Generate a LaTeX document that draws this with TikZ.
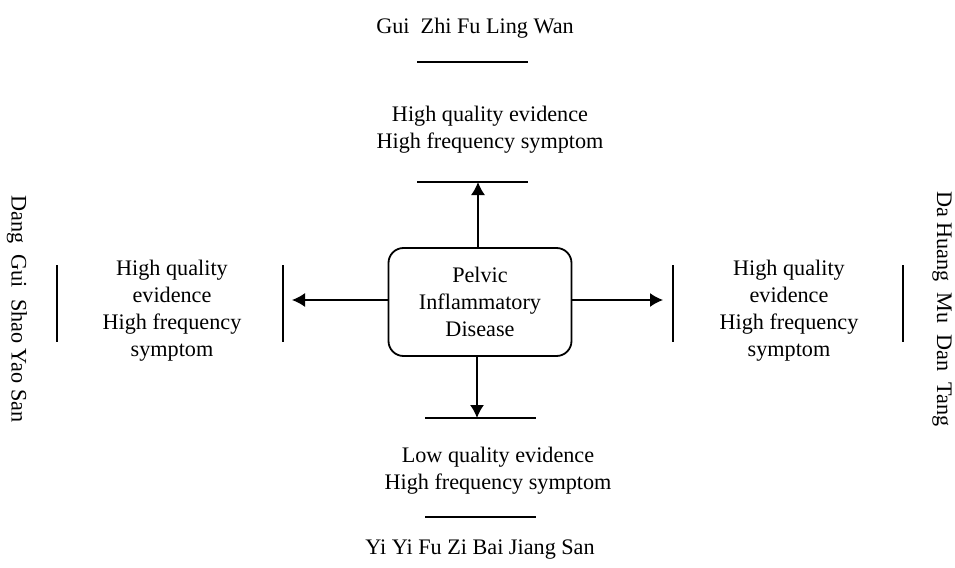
\documentclass[tikz,border=0pt]{standalone}
\usepackage{fontspec}
\setmainfont{Liberation Serif}
\usetikzlibrary{arrows.meta}
\tikzset{%
  >={Latex[width=7pt,length=6.5pt]},
       base/.style = {font=\fontsize{11.1}{13.5}\selectfont, align=center, inner sep=0pt},
    disease/.style = {base, rectangle, rounded corners=7.5pt, draw=black, line width=0.9pt,
                      minimum width=91.5pt, minimum height=54pt},
      evid/.style = {base},
      herb/.style = {base},
     herbv/.style = {base, rotate=-90},
       bar/.style = {line width=0.9pt},
      link/.style = {->, line width=0.7pt},
}
\begin{document}
\begin{tikzpicture}[x=0.5pt, y=-0.5pt]
  \useasboundingbox (0,0) rectangle (955,568);

  \node (pid)      [disease] at (480,302) {Pelvic\\Inflammatory\\Disease};

  \node (herbTop)   [herb]  at (475,28)  {Gui\ \ Zhi Fu Ling Wan};
  \node (evidTop)   [evid]  at (490,130) {High quality evidence\\High frequency symptom};
  \node (herbBot)   [herb]  at (480,550) {Yi Yi Fu Zi Bai Jiang San};
  \node (evidBot)   [evid]  at (498,471) {Low quality evidence\\High frequency symptom};
  \node (herbLeft)  [herbv] at (17,309)  {Dang\ \ Gui\ \ Shao Yao San};
  \node (evidLeft)  [evid]  at (172,311) {High quality\\evidence\\High frequency\\symptom};
  \node (herbRight) [herbv] at (942,309) {Da Huang\ \ Mu\ \ Dan\ \ Tang};
  \node (evidRight) [evid]  at (789,311) {High quality\\evidence\\High frequency\\symptom};

  % bars round the evidence texts
  \draw[bar] (417,62)  -- (528,62);
  \draw[bar] (417,182) -- (528,182);
  \draw[bar] (425,418) -- (536,418);
  \draw[bar] (425,517) -- (536,517);
  \draw[bar] (57,265)  -- (57,342);
  \draw[bar] (283,265) -- (283,342);
  \draw[bar] (673,265) -- (673,342);
  \draw[bar] (903,265) -- (903,342);

  \coordinate (tipTop)   at (478,182);
  \coordinate (tipBot)   at (477,418);
  \coordinate (tipLeft)  at (292,300);
  \coordinate (tipRight) at (663,300);

  \draw[link] (pid.north -| tipTop)  -- (tipTop);
  \draw[link] (pid.south -| tipBot)  -- (tipBot);
  \draw[link] (pid.west |- tipLeft)  -- (tipLeft);
  \draw[link] (pid.east |- tipRight) -- (tipRight);
\end{tikzpicture}
\end{document}
